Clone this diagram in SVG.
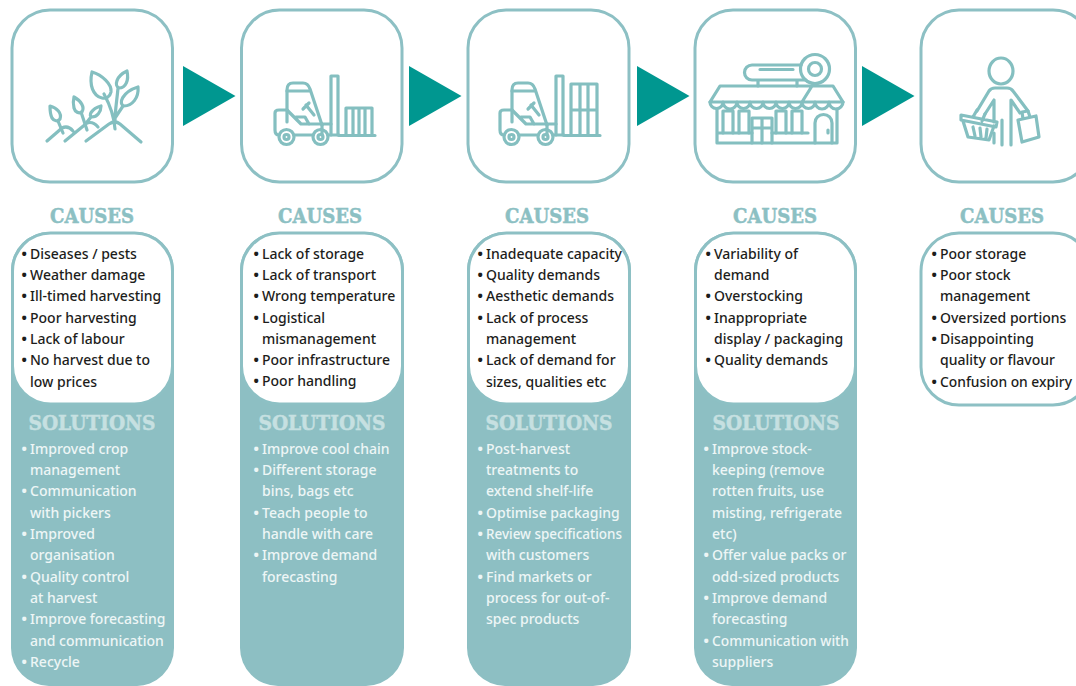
<svg xmlns="http://www.w3.org/2000/svg" xmlns:xlink="http://www.w3.org/1999/xlink" width="1076" height="686" viewBox="0 0 1076 686">
<style>
.card{fill:#fff;stroke:#8dc0c4;stroke-width:3}
.panel{fill:#8dbfc3}
.arrow{fill:#009790}
.ic{fill:none;stroke:#84bfc0;stroke-width:3.2;stroke-linecap:round;stroke-linejoin:round}
.h{font-family:"DejaVu Serif",serif;font-weight:700;font-size:20px;stroke-width:.5px}
.hc{fill:#8cc0c3;stroke:#8cc0c3}
.hs{fill:#c6e0e1;stroke:#c6e0e1}
.t{font-family:"Noto Sans","Liberation Sans",sans-serif;font-size:14px;font-weight:500}
.c{fill:#1d1d1b}
.s{fill:#edf6f6}
.b{font-size:17px}
</style>
<defs>
<g id="forklift" class="ic">
<path d="M275 113Q275 110 279 110H287M275 113V130Q275 135 279 135"/>
<path d="M287 122V90Q287 83 293 83H303Q308 83 310 89L322 125"/>
<path d="M287 91H309"/>
<path d="M287 110L301 124H322V135M296 117H305L309 124"/>
<path d="M303 109L309 103M306 105L314 115"/>
<circle cx="286.500" cy="137" r="7.500"/><circle cx="286.500" cy="137" r="2.500"/>
<circle cx="320.500" cy="137" r="7.500"/><circle cx="320.500" cy="137" r="2.500"/>
<path d="M294 135H313M328 135H339M322 124H331"/>
</g>
</defs>

<g id="connectors">
<polygon class="arrow" points="183,66 235.500,96 183,126"/>
<polygon class="arrow" points="409,66 461.500,96 409,126"/>
<polygon class="arrow" points="637,66 689.500,96 637,126"/>
<polygon class="arrow" points="862,66 914.500,96 862,126"/>
</g>

<g id="icon-card-1">
<rect class="card" x="12" y="10" width="160.500" height="172" rx="38"/>
<g class="ic">
<path d="M47 141L62 128Q68 125 73 131M65 141L87 123Q93 121 98 127M86 141L109 124Q115 120 120 124L141 142"/>
<path d="M92 72C102 75 112 84 111 92C110 97 106 99 102 98C93 96 89 85 92 72Z"/>
<path d="M104 94C110 105 114 115 115 129M127 71C129 80 126 88 119 88C114 86 116 76 127 71ZM118 88C117 100 115 110 115 122M138 87C139 98 132 106 124 106C118 104 122 92 138 87ZM123 106L115 118"/>
<path d="M74 97C81 101 85 107 82 112C79 114 75 112 74 108C73 104 73 101 74 97ZM81 112L87 130"/>
<path d="M101 106C101 112 97 117 92 117C88 116 91 109 101 106ZM91 117L87 122"/>
<path d="M50 106C57 108 62 113 60 119C58 122 54 121 52 118C50 114 50 110 50 106ZM58 121L63 133"/>
</g>
</g>

<g id="icon-card-2">
<rect class="card" x="241.500" y="10" width="160.500" height="172" rx="38"/>
<use xlink:href="#forklift" href="#forklift"/>
<g class="ic">
<path d="M331 135V76H338V135M346 135V108H372V135M353 108V135M359 108V135M365 108V135M339 135.500H375"/>
</g>
</g>

<g id="icon-card-3">
<rect class="card" x="468" y="10" width="161" height="172" rx="38"/>
<use xlink:href="#forklift" href="#forklift" transform="translate(225 0)"/>
<g class="ic">
<path d="M556 135V76H563V135M571 135V84H597V135M580 84V135M588 84V135M571 110H597M564 135.500H600"/>
</g>
</g>

<g id="icon-card-4">
<rect class="card" x="695" y="10" width="160.500" height="172" rx="38"/>
<g class="ic">
<path d="M801 65H752A7.500 7.500 0 0 0 752 80H806M760 69.500H793M758 80V86M797 80V86"/>
<circle cx="815" cy="69" r="14.500"/><circle cx="815" cy="69" r="6.500"/>
<path d="M720 86H833L843 102H710ZM812 86L802 102"/>
<path d="M710 102A6.500 6.500 0 0 0 723 102A6.500 6.500 0 0 0 737 102A6.500 6.500 0 0 0 750 102A6.500 6.500 0 0 0 763 102A6.500 6.500 0 0 0 776 102A6.500 6.500 0 0 0 789 102A6.500 6.500 0 0 0 802 102A6.500 6.500 0 0 0 815 102A6.500 6.500 0 0 0 829 102A6.500 6.500 0 0 0 843 102"/>
<path d="M717 109V143H837V109M717 133H752M772 133H808"/>
<path d="M723 133V111H733V133M739 133V111H749V133M776 133V111H786V133M792 133V111H802V133"/>
<path d="M752 143V118H772V143M762 118V143M752 128H772"/>
<path d="M815 143V123A8.500 8.500 0 0 1 832 123V143M828 130V133"/>
</g>
</g>

<g id="icon-card-5">
<rect class="card" x="921" y="10" width="170" height="172" rx="38"/>
<g class="ic">
<ellipse cx="1001" cy="71" rx="12" ry="13"/>
<path d="M977 111L989 91Q991 88 995 88H1007Q1011 88 1013 91L1028 111M985 114L994 100V122M994 133V143M1002 120V145M1011 145V100L1020 113"/>
<path d="M961 115L997 122L996 127L961 120ZM963 121L968 137L989 140L994 126M973 127L975 136M980 128L981 137M987 129L986 138M977 110L973 117M985 114L982 121"/>
<path d="M1018 120L1036 116L1039 137L1022 142ZM1023 119L1022 112L1028 111L1030 117"/>
</g>
</g>

<g id="column-1">
<text class="h hc" x="92" y="223" text-anchor="middle" textLength="84" lengthAdjust="spacingAndGlyphs">CAUSES</text>
<path class="panel" d="M11 270A38 38 0 0 1 49 232H135A38 38 0 0 1 174 270V648A38 38 0 0 1 135 686H49A38 38 0 0 1 11 648Z"/>
<rect class="card" x="12.500" y="233" width="160" height="171" rx="38"/>
<text class="h hs" x="92" y="430" text-anchor="middle" textLength="127" lengthAdjust="spacingAndGlyphs">SOLUTIONS</text>
<g class="t c">
<text class="b" x="21" y="260">•</text><text x="30" y="259">Diseases / pests</text>
<text class="b" x="21" y="281">•</text><text x="30" y="280">Weather damage</text>
<text class="b" x="21" y="302">•</text><text x="30" y="301">Ill-timed harvesting</text>
<text class="b" x="21" y="324">•</text><text x="30" y="323">Poor harvesting</text>
<text class="b" x="21" y="345">•</text><text x="30" y="344">Lack of labour</text>
<text class="b" x="21" y="366">•</text><text x="30" y="365">No harvest due to</text>
<text x="30" y="387">low prices</text>
</g>
<g class="t s">
<text class="b" x="21" y="455">•</text><text x="30" y="454">Improved crop</text>
<text x="30" y="475">management</text>
<text class="b" x="21" y="497">•</text><text x="30" y="496">Communication</text>
<text x="30" y="518">with pickers</text>
<text class="b" x="21" y="540">•</text><text x="30" y="539">Improved</text>
<text x="30" y="560">organisation</text>
<text class="b" x="21" y="583">•</text><text x="30" y="582">Quality control</text>
<text x="30" y="603">at harvest</text>
<text class="b" x="21" y="625">•</text><text x="30" y="624">Improve forecasting</text>
<text x="30" y="646">and communication</text>
<text class="b" x="21" y="668">•</text><text x="30" y="667">Recycle</text>
</g>
</g>

<g id="column-2">
<text class="h hc" x="320" y="223" text-anchor="middle" textLength="84" lengthAdjust="spacingAndGlyphs">CAUSES</text>
<path class="panel" d="M240 270A38 38 0 0 1 278 232H366A38 38 0 0 1 404 270V648A38 38 0 0 1 366 686H278A38 38 0 0 1 240 648Z"/>
<rect class="card" x="241.500" y="233" width="161" height="171" rx="38"/>
<text class="h hs" x="322" y="430" text-anchor="middle" textLength="127" lengthAdjust="spacingAndGlyphs">SOLUTIONS</text>
<g class="t c">
<text class="b" x="253" y="260">•</text><text x="262" y="259">Lack of storage</text>
<text class="b" x="253" y="281">•</text><text x="262" y="280">Lack of transport</text>
<text class="b" x="253" y="302">•</text><text x="262" y="301">Wrong temperature</text>
<text class="b" x="253" y="324">•</text><text x="262" y="323">Logistical</text>
<text x="262" y="344">mismanagement</text>
<text class="b" x="253" y="366">•</text><text x="262" y="365">Poor infrastructure</text>
<text class="b" x="253" y="387">•</text><text x="262" y="386">Poor handling</text>
</g>
<g class="t s">
<text class="b" x="253" y="455">•</text><text x="262" y="454">Improve cool chain</text>
<text class="b" x="253" y="476">•</text><text x="262" y="475">Different storage</text>
<text x="262" y="496">bins, bags etc</text>
<text class="b" x="253" y="519">•</text><text x="262" y="518">Teach people to</text>
<text x="262" y="539">handle with care</text>
<text class="b" x="253" y="561">•</text><text x="262" y="560">Improve demand</text>
<text x="262" y="582">forecasting</text>
</g>
</g>

<g id="column-3">
<text class="h hc" x="547" y="223" text-anchor="middle" textLength="84" lengthAdjust="spacingAndGlyphs">CAUSES</text>
<path class="panel" d="M467 270A38 38 0 0 1 505 232H593A38 38 0 0 1 631 270V648A38 38 0 0 1 593 686H505A38 38 0 0 1 467 648Z"/>
<rect class="card" x="468.500" y="233" width="161" height="171" rx="38"/>
<text class="h hs" x="549" y="430" text-anchor="middle" textLength="127" lengthAdjust="spacingAndGlyphs">SOLUTIONS</text>
<g class="t c">
<text class="b" x="477" y="260">•</text><text x="486" y="259">Inadequate capacity</text>
<text class="b" x="477" y="281">•</text><text x="486" y="280">Quality demands</text>
<text class="b" x="477" y="302">•</text><text x="486" y="301">Aesthetic demands</text>
<text class="b" x="477" y="324">•</text><text x="486" y="323">Lack of process</text>
<text x="486" y="344">management</text>
<text class="b" x="477" y="366">•</text><text x="486" y="365">Lack of demand for</text>
<text x="486" y="387">sizes, qualities etc</text>
</g>
<g class="t s">
<text class="b" x="477" y="455">•</text><text x="486" y="454">Post-harvest</text>
<text x="486" y="475">treatments to</text>
<text x="486" y="496">extend shelf-life</text>
<text class="b" x="477" y="519">•</text><text x="486" y="518">Optimise packaging</text>
<text class="b" x="477" y="540">•</text><text x="486" y="539" textLength="136" lengthAdjust="spacingAndGlyphs">Review specifications</text>
<text x="486" y="560">with customers</text>
<text class="b" x="477" y="583">•</text><text x="486" y="582">Find markets or</text>
<text x="486" y="603">process for out-of-</text>
<text x="486" y="624">spec products</text>
</g>
</g>

<g id="column-4">
<text class="h hc" x="775" y="223" text-anchor="middle" textLength="84" lengthAdjust="spacingAndGlyphs">CAUSES</text>
<path class="panel" d="M694 270A38 38 0 0 1 732 232H819A38 38 0 0 1 857 270V648A38 38 0 0 1 819 686H732A38 38 0 0 1 694 648Z"/>
<rect class="card" x="695.500" y="233" width="160" height="171" rx="38"/>
<text class="h hs" x="776" y="430" text-anchor="middle" textLength="127" lengthAdjust="spacingAndGlyphs">SOLUTIONS</text>
<g class="t c">
<text class="b" x="705" y="260">•</text><text x="714" y="259">Variability of</text>
<text x="714" y="280">demand</text>
<text class="b" x="705" y="302">•</text><text x="714" y="301">Overstocking</text>
<text class="b" x="705" y="324">•</text><text x="714" y="323">Inappropriate</text>
<text x="714" y="344">display / packaging</text>
<text class="b" x="705" y="366">•</text><text x="714" y="365">Quality demands</text>
</g>
<g class="t s">
<text class="b" x="703" y="455">•</text><text x="712" y="454">Improve stock-</text>
<text x="712" y="475">keeping (remove</text>
<text x="712" y="496">rotten fruits, use</text>
<text x="712" y="518">misting, refrigerate</text>
<text x="712" y="539">etc)</text>
<text class="b" x="703" y="561">•</text><text x="712" y="560">Offer value packs or</text>
<text x="712" y="582">odd-sized products</text>
<text class="b" x="703" y="604">•</text><text x="712" y="603">Improve demand</text>
<text x="712" y="624">forecasting</text>
<text class="b" x="703" y="647">•</text><text x="712" y="646" textLength="137" lengthAdjust="spacingAndGlyphs">Communication with</text>
<text x="712" y="667">suppliers</text>
</g>
</g>

<g id="column-5">
<text class="h hc" x="1002" y="223" text-anchor="middle" textLength="84" lengthAdjust="spacingAndGlyphs">CAUSES</text>
<rect class="card" x="921" y="233" width="170" height="172" rx="38"/>
<g class="t c">
<text class="b" x="931" y="260">•</text><text x="940" y="259">Poor storage</text>
<text class="b" x="931" y="281">•</text><text x="940" y="280">Poor stock</text>
<text x="940" y="301">management</text>
<text class="b" x="931" y="324">•</text><text x="940" y="323">Oversized portions</text>
<text class="b" x="931" y="345">•</text><text x="940" y="344">Disappointing</text>
<text x="940" y="365">quality or flavour</text>
<text class="b" x="931" y="388">•</text><text x="940" y="387" textLength="132" lengthAdjust="spacingAndGlyphs">Confusion on expiry</text>
</g>
</g>
</svg>
